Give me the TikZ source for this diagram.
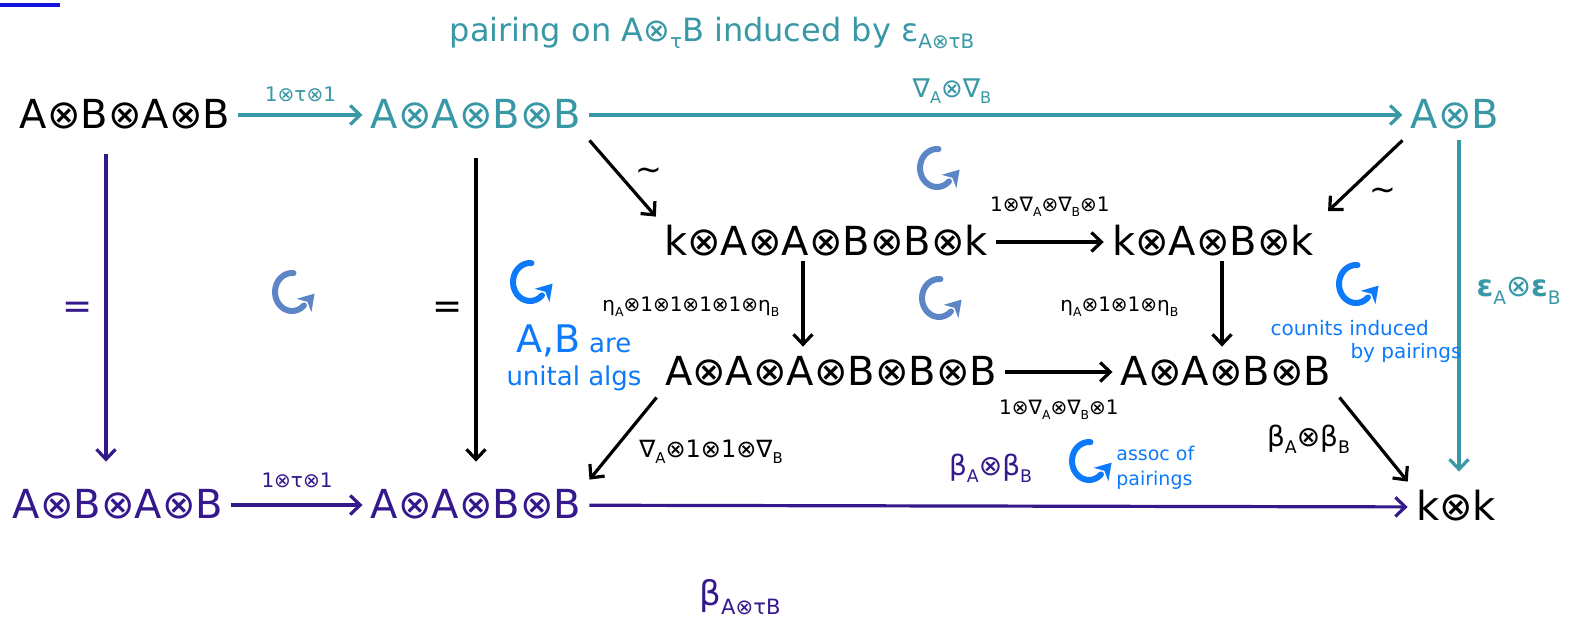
\documentclass[tikz,border=0pt]{standalone}
\usepackage{fontspec}
\setmainfont{DejaVu Sans}
\usepackage{graphicx}
\usetikzlibrary{arrows.meta,calc}
\definecolor{tealc}{RGB}{56,152,166}
\definecolor{purp}{RGB}{52,24,140}
\definecolor{steelb}{RGB}{92,134,198}
\definecolor{brightb}{RGB}{12,122,250}
\definecolor{ulblue}{RGB}{20,20,220}
\newcommand\sbx[1]{\raisebox{-0.45ex}{\scalebox{0.62}{#1}}}
\newcommand\ot{⊗}
\begin{document}
\begin{tikzpicture}[x=0.5pt,y=-0.5pt,
  obj/.style={inner sep=4pt, text height=15pt, text depth=2pt, font=\fontsize{20}{24}\selectfont},
  lab/.style={inner sep=1pt, font=\fontsize{10}{12}\selectfont},
  biglab/.style={inner sep=1pt, font=\fontsize{14}{16}\selectfont},
  arr/.style={line width=1.6pt, -{Straight Barb[length=5pt,width=9.5pt]}},
  note/.style={text=brightb, inner sep=0pt},
  cyc/.pic={
    \begin{scope}[x=1pt,y=1pt]
    \draw[line width=3pt,line cap=round] (85:8.5 and 9.5) arc[start angle=85,end angle=315,x radius=8.5,y radius=9.5];
    \fill (11.3,-0.8) -- (9.7,-10.1) -- (7.7,-4.9) -- (2.3,-3.4) -- cycle;
    \end{scope}
  }
]
\useasboundingbox (0,0) rectangle (1574,623);
\draw[ulblue, line width=2pt] (0,5) -- (60,5);

% title
\node[text=tealc, inner sep=0pt, font=\fontsize{16}{18}\selectfont] (title) at (712,33)
  {pairing on A\ot\sbx{τ}B induced by ε\sbx{A\ot τB}};

% objects
\node[obj] (n1) at (125,115) {A\ot B\ot A\ot B};
\node[obj,text=tealc] (n2) at (476,115) {A\ot A\ot B\ot B};
\node[obj,text=tealc] (n3) at (1455,115) {A\ot B};
\node[obj] (n4) at (826,242) {k\ot A\ot A\ot B\ot B\ot k};
\node[obj] (n5) at (1213,242) {k\ot A\ot B\ot k};
\node[obj] (n6) at (831,372) {A\ot A\ot A\ot B\ot B\ot B};
\node[obj] (n7) at (1226,372) {A\ot A\ot B\ot B};
\node[obj,text=purp] (n8) at (118,505) {A\ot B\ot A\ot B};
\node[obj,text=purp] (n9) at (476,505) {A\ot A\ot B\ot B};
\node[obj] (n10) at (1456,507) {k\ot k};

\coordinate (v1) at (106,0);
\coordinate (v2) at (803,0);
\coordinate (v3) at (1222,0);
\coordinate (v4) at (1459,0);

% top row
\draw[arr,tealc] (n1) -- node[lab,above=5pt,text=tealc] (l1) {1\ot τ\ot 1} (n2);
\draw[arr,tealc] (n2) -- node[above=4pt,xshift=-22pt,inner sep=1pt,text=tealc,font=\fontsize{13}{15}\selectfont] (l2) {∇\sbx{A}\ot∇\sbx{B}} (n3);

% verticals
\draw[arr,purp,shorten <=7pt,shorten >=9pt] (n1.south -| v1) -- node[left=6pt,text=purp,inner sep=0pt,font=\fontsize{18}{20}\selectfont] (l3) {=} (n8.north -| v1);
\draw[arr,shorten <=9pt,shorten >=9pt] (n2.south) -- node[left=6pt,inner sep=0pt,font=\fontsize{18}{20}\selectfont] (l4) {=} (n9.north);
\draw[arr,tealc,shorten >=5pt] (n3.south -| v4) -- node[midway,anchor=west,xshift=8pt,yshift=10pt,text=tealc,inner sep=0pt,font=\fontsize{15}{17}\selectfont] (l5) {\textbf{ε}\sbx{A}\ot \textbf{ε}\sbx{B}} (n10.north -| v4);

% diagonals
\draw[arr] (n2.south east) -- node[pos=0.5,xshift=13pt,yshift=2pt,inner sep=0pt,font=\fontsize{16}{18}\selectfont] (l6) {∼} (n4.north west);
\draw[arr,shorten >=4pt] (n3.south west) -- node[pos=0.5,xshift=10.5pt,yshift=-8pt,inner sep=0pt,font=\fontsize{16}{18}\selectfont] (l7) {∼} (n5.north east);
\draw[arr] (n6.south west) -- node[pos=0.5,xshift=44pt,yshift=-6.5pt,inner sep=0pt,font=\fontsize{12}{14}\selectfont] (l8) {∇\sbx{A}\ot 1\ot 1\ot ∇\sbx{B}} (n9.north east);
\draw[arr] (n7.south east) -- node[midway,left=10pt,biglab] (l9) {β\sbx{A}\ot β\sbx{B}} (n10.north west);

% middle square
\draw[arr] (n4) -- node[lab,above=11pt] (l10) {1\ot∇\sbx{A}\ot∇\sbx{B}\ot 1} (n5);
\draw[arr] (n6) -- node[lab,below=12pt] (l11) {1\ot∇\sbx{A}\ot∇\sbx{B}\ot 1} (n7);
\draw[arr,shorten <=-3pt] (n4.south -| v2) -- node[lab,left=10pt] (l12) {η\sbx{A}\ot 1\ot 1\ot 1\ot 1\ot η\sbx{B}} (n6.north -| v2);
\draw[arr,shorten <=-3pt] (n5.south -| v3) -- node[lab,left=20pt] (l13) {η\sbx{A}\ot 1\ot 1\ot η\sbx{B}} (n7.north -| v3);

% bottom row
\draw[arr,purp] (n8) -- node[lab,above=7pt,text=purp] (l14) {1\ot τ\ot 1} (n9);
\draw[arr,purp] (n9) -- node[biglab,above=10pt,xshift=-4pt,text=purp] (l15) {β\sbx{A}\ot β\sbx{B}} (n10);
\node[text=purp, inner sep=0pt, font=\fontsize{17}{20}\selectfont] (l16) at (740,597) {β\sbx{A\ot τB}};

% commutativity marks
\pic[steelb] at (292,292) {cyc};
\pic[steelb] at (937,168) {cyc};
\pic[steelb] at (939,298) {cyc};
\pic[brightb] at (530,282) {cyc};
\pic[brightb] at (1356,284) {cyc};
\pic[brightb] at (1089,461) {cyc};

% notes
\node[note, align=center, font=\fontsize{13}{16.5}\selectfont] (t1) at (574,358)
  {{\fontsize{19}{20}\selectfont A,B} are\\unital algs};
\node[note, align=left, font=\fontsize{10}{11.5}\selectfont] (t2) at (1366,341)
  {counits induced\\\hspace*{40pt}by pairings};
\node[note, align=left, anchor=west, font=\fontsize{9.5}{12.5}\selectfont] (t3) at (1116,468)
  {assoc of\\pairings};
\end{tikzpicture}
\end{document}
